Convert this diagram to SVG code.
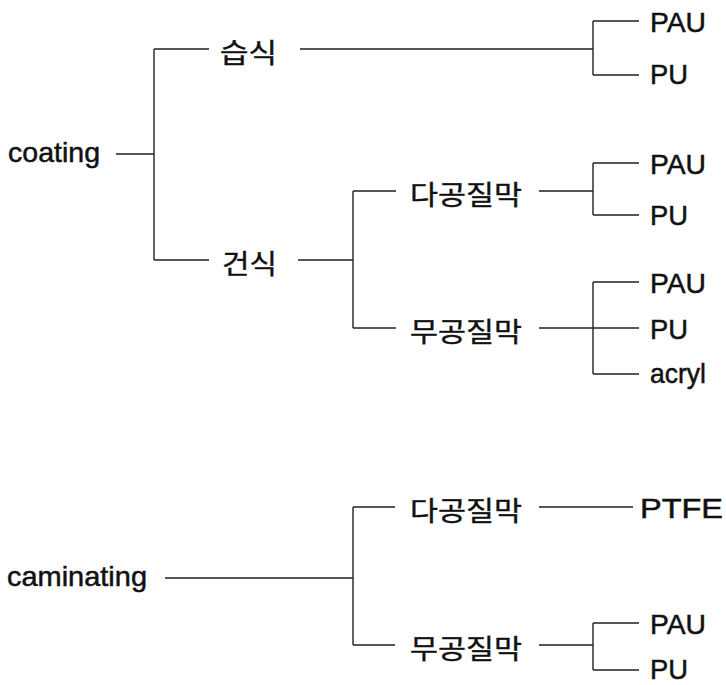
<svg xmlns="http://www.w3.org/2000/svg" width="726" height="685" viewBox="0 0 726 685">
<style>
text{font-family:"Liberation Sans","Noto Sans CJK KR",sans-serif;font-size:28px;fill:#111;stroke:#111;stroke-width:0.5}
.k{font-family:"Noto Sans CJK KR","Liberation Sans",sans-serif;font-size:27px;font-weight:400;stroke-width:0.4}
#connectors path{fill:none;stroke:#222;stroke-width:1.4}
</style>
<rect width="726" height="685" fill="#fff"/>
<g id="connectors">
<path d="M116 154H154M154 49V260M154 49H209M154 260H209"/>
<path d="M300 49H593M593 21V75M593 21H639M593 75H639"/>
<path d="M298 260H353M353 191V328M353 191H396M353 328H396"/>
<path d="M539 191H593M593 163V215M593 163H639M593 215H639"/>
<path d="M539 328H593M593 282V374M593 282H639M593 328H639M593 374H639"/>
<path d="M165 578H353M353 507V645M353 507H395M353 645H395"/>
<path d="M539 507H633"/>
<path d="M539 645H593M593 623V670M593 623H639M593 670H639"/>
</g>
<g id="n-coating"><text x="8" y="162" textLength="92" lengthAdjust="spacingAndGlyphs">coating</text></g>
<g id="n-wet"><text class="k" x="220" y="63" textLength="57" lengthAdjust="spacingAndGlyphs">습식</text></g>
<g id="n-wet-pau"><text x="650" y="32" textLength="56" lengthAdjust="spacingAndGlyphs">PAU</text></g>
<g id="n-wet-pu"><text x="650" y="84" textLength="38" lengthAdjust="spacingAndGlyphs">PU</text></g>
<g id="n-dry"><text class="k" x="222" y="274" textLength="55" lengthAdjust="spacingAndGlyphs">건식</text></g>
<g id="n-dry-porous"><text class="k" x="410" y="205" textLength="112" lengthAdjust="spacingAndGlyphs">다공질막</text></g>
<g id="n-dry-porous-pau"><text x="650" y="174" textLength="56" lengthAdjust="spacingAndGlyphs">PAU</text></g>
<g id="n-dry-porous-pu"><text x="650" y="225" textLength="38" lengthAdjust="spacingAndGlyphs">PU</text></g>
<g id="n-dry-nonporous"><text class="k" x="410" y="342" textLength="112" lengthAdjust="spacingAndGlyphs">무공질막</text></g>
<g id="n-dry-nonporous-pau"><text x="650" y="293" textLength="56" lengthAdjust="spacingAndGlyphs">PAU</text></g>
<g id="n-dry-nonporous-pu"><text x="650" y="339" textLength="38" lengthAdjust="spacingAndGlyphs">PU</text></g>
<g id="n-dry-nonporous-acryl"><text x="650" y="383" textLength="56" lengthAdjust="spacingAndGlyphs">acryl</text></g>
<g id="n-caminating"><text x="7" y="586" textLength="140" lengthAdjust="spacingAndGlyphs">caminating</text></g>
<g id="n-cam-porous"><text class="k" x="410" y="521" textLength="112" lengthAdjust="spacingAndGlyphs">다공질막</text></g>
<g id="n-cam-porous-ptfe"><text x="640" y="518" textLength="83" lengthAdjust="spacingAndGlyphs">PTFE</text></g>
<g id="n-cam-nonporous"><text class="k" x="410" y="659" textLength="112" lengthAdjust="spacingAndGlyphs">무공질막</text></g>
<g id="n-cam-nonporous-pau"><text x="650" y="634" textLength="56" lengthAdjust="spacingAndGlyphs">PAU</text></g>
<g id="n-cam-nonporous-pu"><text x="650" y="679" textLength="38" lengthAdjust="spacingAndGlyphs">PU</text></g>
</svg>
